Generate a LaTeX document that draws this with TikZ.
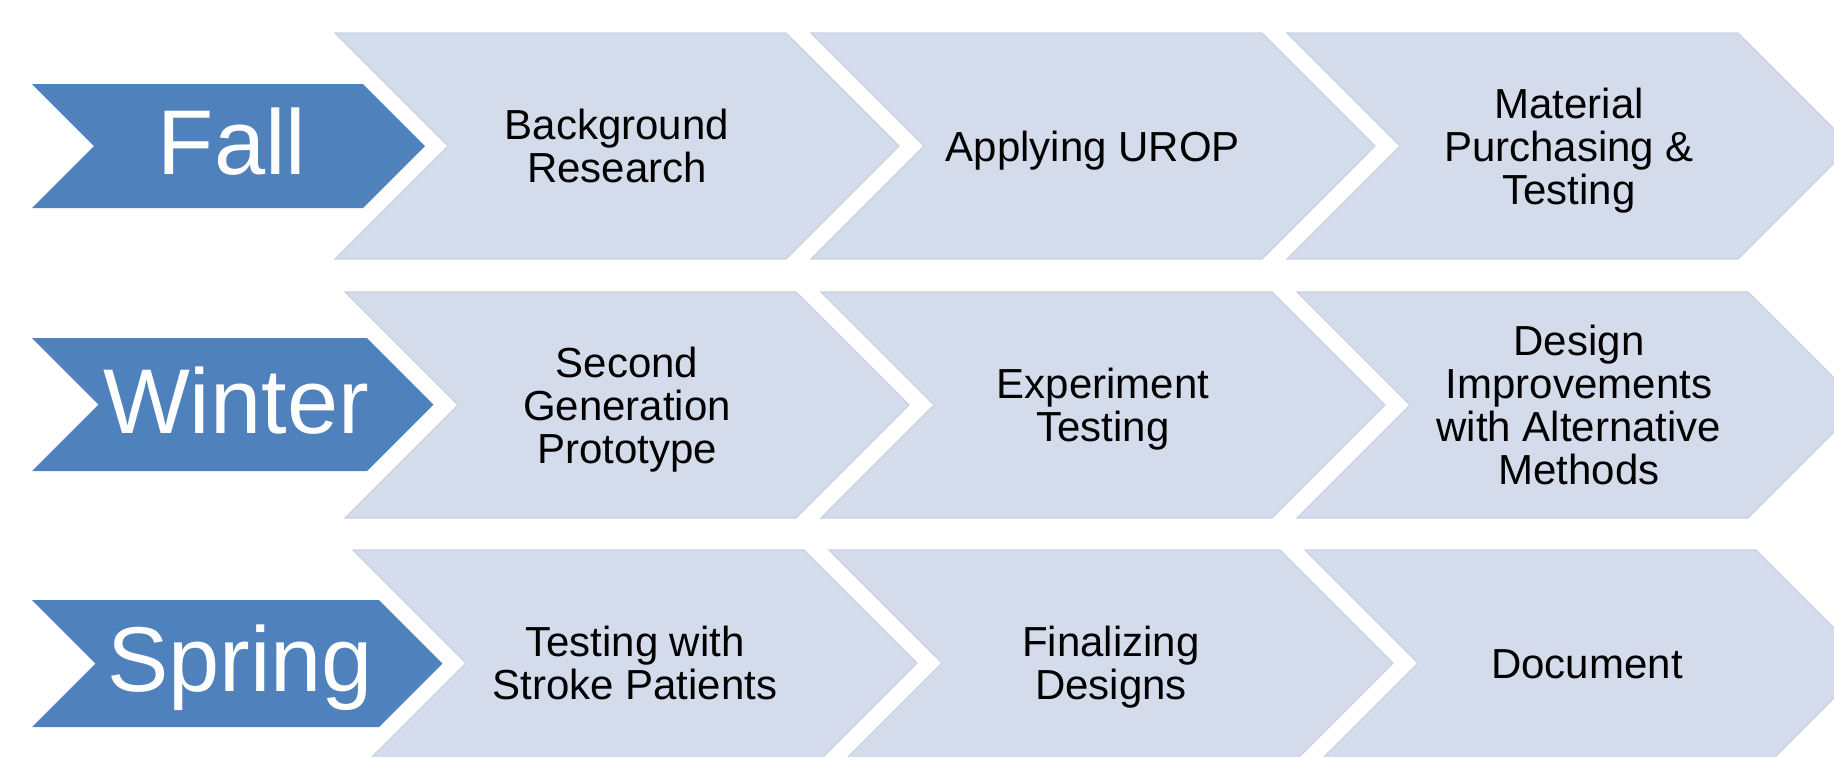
\documentclass[tikz,border=0pt]{standalone}
\usepackage{fontspec}
\setmainfont{Liberation Sans}
\definecolor{seasonblue}{RGB}{79,129,189}
\definecolor{stagefill}{RGB}{212,219,234}
\definecolor{stageedge}{RGB}{202,210,227}
\begin{document}
\begin{tikzpicture}[x=1pt,y=-1pt,
  season/.style={fill=seasonblue,draw=none},
  stage/.style={fill=stagefill,draw=stageedge,line width=1.2pt,line join=miter},
  seasonlabel/.style={text=white,font=\fontsize{92}{110}\selectfont,anchor=base,inner sep=0pt},
  stagelabel/.style={text=black,font=\fontsize{42}{43}\selectfont,align=center,anchor=base,inner sep=0pt}]
\useasboundingbox (0,0) rectangle (1834,756);
\clip (0,0) rectangle (1834,756);

% light chevrons: three per row, each row nudged a little to the right
\foreach \yc/\off in {146/0,405/10,663/18}{
  \foreach \k in {0,1,2}{
    \pgfmathsetmacro\L{335+\off+476*\k}
    \draw[stage] (\L,{\yc-113}) -- ++(451,0) -- ++(113,113) -- ++(-113,113)
      -- ++(-451,0) -- ++(113,-113) -- cycle;
  }
}

% season arrows
\foreach \yc/\h/\rc in {146/62/363,404.5/66.5/367,663.5/63.5/379}{
  \fill[season] (32,{\yc-\h}) -- (\rc,{\yc-\h}) -- ({\rc+\h},\yc) -- (\rc,{\yc+\h})
    -- (32,{\yc+\h}) -- ({32+\h},\yc) -- cycle;
}

% season labels
\node[seasonlabel] (fall)   at (232,174) {Fall};
\node[seasonlabel] (winter) at (236,433) {Winter};
\node[seasonlabel] (spring) at (240,691) {Spring};

% stage labels (placed at the baseline of their last line)
\node[stagelabel] (research)   at (617,182.5)  {Background\\Research};
\node[stagelabel] (urop)       at (1093,161)   {Applying UROP};
\node[stagelabel] (material)   at (1569,204)   {Material\\Purchasing \&\\Testing};
\node[stagelabel] (prototype)  at (627,463)    {Second\\Generation\\Prototype};
\node[stagelabel] (experiment) at (1103,441.5) {Experiment\\Testing};
\node[stagelabel] (improve)    at (1579,484.5) {Design\\Improvements\\with Alternative\\Methods};
\node[stagelabel] (patients)   at (635,699.5)  {Testing with\\Stroke Patients};
\node[stagelabel] (finalize)   at (1111,699.5) {Finalizing\\Designs};
\node[stagelabel] (document)   at (1587,678)   {Document};
\end{tikzpicture}
\end{document}
